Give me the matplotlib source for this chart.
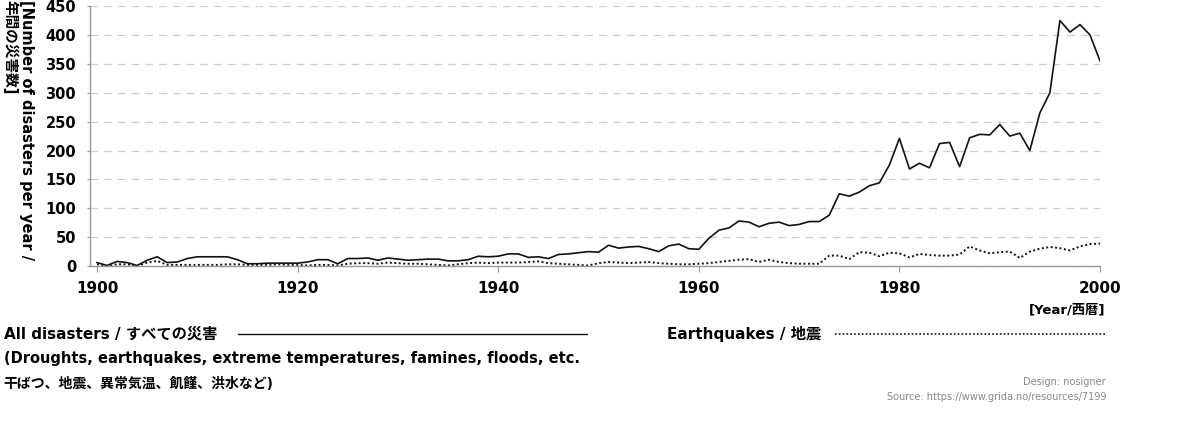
import matplotlib
matplotlib.use('Agg')
import matplotlib.pyplot as plt
from matplotlib.lines import Line2D
import numpy as np

# annual counts
years = np.arange(1900, 2001)

all_disasters = [
    6, 1, 8, 6, 1, 10, 16, 6, 7, 13,          # 1900s
    16, 16, 16, 16, 11, 4, 4, 5, 5, 5,         # 1910s
    5, 7, 11, 11, 4, 13, 13, 14, 10, 14,       # 1920s
    12, 10, 11, 12, 12, 9, 9, 11, 17, 16,      # 1930s
    17, 21, 21, 15, 16, 13, 20, 21, 23, 25,    # 1940s
    24, 36, 31, 33, 34, 30, 25, 35, 38, 30,    # 1950s
    29, 48, 62, 66, 78, 76, 68, 74, 76, 70,    # 1960s
    72, 77, 77, 88, 125, 121, 128, 139, 144, 175,   # 1970s
    221, 168, 178, 170, 212, 214, 172, 222, 228, 227,  # 1980s
    245, 225, 230, 200, 265, 300, 425, 405, 418, 400,  # 1990s
    355,                                       # 2000
]

earthquakes = [
    3, 0, 3, 3, 0, 6, 9, 2, 2, 2,
    2, 2, 2, 3, 3, 2, 2, 2, 3, 2,
    2, 1, 2, 2, 1, 4, 5, 5, 4, 6,
    5, 4, 4, 3, 2, 1, 3, 5, 6, 5,
    6, 6, 6, 7, 8, 5, 4, 3, 2, 1,
    5, 7, 6, 5, 6, 7, 5, 4, 3, 3,
    4, 5, 7, 9, 11, 12, 7, 11, 7, 5,
    4, 4, 4, 18, 18, 12, 24, 23, 17, 23,
    22, 15, 21, 19, 18, 18, 20, 34, 27, 22,
    24, 25, 14, 25, 30, 33, 31, 27, 34, 38,
    39,
]

x_ticks = [1900, 1920, 1940, 1960, 1980, 2000]
y_ticks = [0, 50, 100, 150, 200, 250, 300, 350, 400, 450]

plt.rcParams['font.family'] = ['DejaVu Sans', 'Noto Sans CJK JP']

fig = plt.figure(figsize=(12, 4.34), dpi=100)
ax = fig.add_axes([0.075, 0.387, 0.8417, 0.599])

ax.plot(years, all_disasters, color='#111111', lw=1.2)
ax.plot(years, earthquakes, color='#111111', lw=1.4, ls=(0, (1, 1.3)))

ax.set_xlim(1899.3, 2000)
ax.set_ylim(0, 450)
ax.set_xticks(x_ticks)
ax.set_yticks(y_ticks)
ax.set_xticklabels([str(t) for t in x_ticks], fontweight='bold', fontsize=11)
ax.set_yticklabels([str(t) for t in y_ticks], fontweight='bold', fontsize=10.5)
ax.tick_params(axis='y', length=2, color='#999999', pad=8)
ax.tick_params(axis='x', length=4, color='#999999', pad=7)

for s in ['top', 'right']:
    ax.spines[s].set_visible(False)
for s in ['left', 'bottom']:
    ax.spines[s].set_color('#999999')
    ax.spines[s].set_linewidth(1)

ax.yaxis.grid(True, color='#cccccc', ls=(0, (6, 5)), lw=0.9)
ax.set_axisbelow(True)

# axis titles
fig.text(0.002, 1.0, '[Number of disasters per year /\n年間の災害数]',
         rotation=270, ha='left', va='top', fontsize=10.5, fontweight='bold',
         linespacing=1.1)
fig.text(0.921, 0.286, '[Year/西暦]', ha='right', va='center',
         fontsize=9.5, fontweight='bold')

# legend area
fig.text(0.003, 0.230, 'All disasters / すべての災害', ha='left', va='center',
         fontsize=11, fontweight='bold')
fig.add_artist(Line2D([0.198, 0.489], [0.230, 0.230], color='#111111', lw=1.0))
fig.text(0.556, 0.230, 'Earthquakes / 地震', ha='left', va='center',
         fontsize=11, fontweight='bold')
fig.add_artist(Line2D([0.696, 0.922], [0.230, 0.230], color='#111111', lw=1.2,
                      ls=(0, (1, 1.3))))
fig.text(0.003, 0.175,
         '(Droughts, earthquakes, extreme temperatures, famines, floods, etc.',
         ha='left', va='center', fontsize=10.5, fontweight='bold')
fig.text(0.003, 0.115, '干ばつ、地震、異常気温、飢饉、洪水など)',
         ha='left', va='center', fontsize=10, fontweight='bold')

fig.text(0.921, 0.120, 'Design: nosigner', ha='right', va='center',
         fontsize=7, color='#888888')
fig.text(0.922, 0.085, 'Source: https://www.grida.no/resources/7199',
         ha='right', va='center', fontsize=7, color='#888888')

fig.savefig('out.png', dpi=100, facecolor='white')
